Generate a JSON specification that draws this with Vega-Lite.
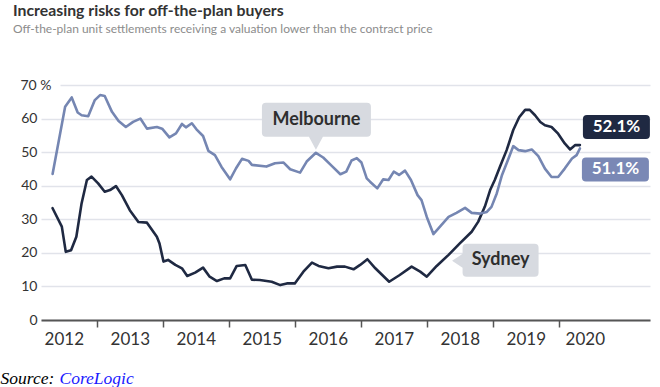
{
  "$schema": "https://vega.github.io/schema/vega-lite/v6.json",
  "width": 609,
  "height": 235,
  "autosize": {"type": "none"},
  "padding": {"left": 41, "top": 85, "right": 10, "bottom": 67},
  "background": "white",
  "title": {
    "text": "Increasing risks for off-the-plan buyers",
    "subtitle": "Off-the-plan unit settlements receiving a valuation lower than the contract price",
    "anchor": "start",
    "frame": "group",
    "dx": -28,
    "offset": 42,
    "font": "Lato",
    "fontSize": 15.8,
    "fontWeight": "bold",
    "color": "#333333",
    "subtitleFont": "Lato",
    "subtitleFontSize": 12,
    "subtitleColor": "#8c8c8c",
    "subtitlePadding": 4
  },
  "config": {"view": {"stroke": null}, "font": "Lato"},
  "datasets": {
    "series": [
      {"city": "Sydney", "year": 2012.33, "value": 33.3},
      {"city": "Sydney", "year": 2012.47, "value": 27.8},
      {"city": "Sydney", "year": 2012.53, "value": 20.3},
      {"city": "Sydney", "year": 2012.61, "value": 20.8},
      {"city": "Sydney", "year": 2012.69, "value": 24.8},
      {"city": "Sydney", "year": 2012.77, "value": 34.8},
      {"city": "Sydney", "year": 2012.85, "value": 41.7},
      {"city": "Sydney", "year": 2012.92, "value": 42.7},
      {"city": "Sydney", "year": 2013.02, "value": 40.7},
      {"city": "Sydney", "year": 2013.12, "value": 38.2},
      {"city": "Sydney", "year": 2013.20, "value": 38.7},
      {"city": "Sydney", "year": 2013.29, "value": 39.9},
      {"city": "Sydney", "year": 2013.38, "value": 37.2},
      {"city": "Sydney", "year": 2013.50, "value": 32.7},
      {"city": "Sydney", "year": 2013.63, "value": 29.2},
      {"city": "Sydney", "year": 2013.76, "value": 29.0},
      {"city": "Sydney", "year": 2013.83, "value": 27.0},
      {"city": "Sydney", "year": 2013.91, "value": 24.8},
      {"city": "Sydney", "year": 2013.95, "value": 22.8},
      {"city": "Sydney", "year": 2014.01, "value": 17.4},
      {"city": "Sydney", "year": 2014.08, "value": 17.9},
      {"city": "Sydney", "year": 2014.19, "value": 16.4},
      {"city": "Sydney", "year": 2014.29, "value": 15.4},
      {"city": "Sydney", "year": 2014.37, "value": 13.1},
      {"city": "Sydney", "year": 2014.49, "value": 14.1},
      {"city": "Sydney", "year": 2014.61, "value": 15.6},
      {"city": "Sydney", "year": 2014.71, "value": 12.9},
      {"city": "Sydney", "year": 2014.82, "value": 11.6},
      {"city": "Sydney", "year": 2014.93, "value": 12.4},
      {"city": "Sydney", "year": 2015.02, "value": 12.4},
      {"city": "Sydney", "year": 2015.12, "value": 16.1},
      {"city": "Sydney", "year": 2015.25, "value": 16.4},
      {"city": "Sydney", "year": 2015.35, "value": 12.0},
      {"city": "Sydney", "year": 2015.47, "value": 11.9},
      {"city": "Sydney", "year": 2015.65, "value": 11.4},
      {"city": "Sydney", "year": 2015.78, "value": 10.4},
      {"city": "Sydney", "year": 2015.88, "value": 10.9},
      {"city": "Sydney", "year": 2016.00, "value": 10.9},
      {"city": "Sydney", "year": 2016.13, "value": 14.4},
      {"city": "Sydney", "year": 2016.26, "value": 17.1},
      {"city": "Sydney", "year": 2016.36, "value": 16.1},
      {"city": "Sydney", "year": 2016.51, "value": 15.4},
      {"city": "Sydney", "year": 2016.64, "value": 15.9},
      {"city": "Sydney", "year": 2016.76, "value": 15.9},
      {"city": "Sydney", "year": 2016.89, "value": 15.1},
      {"city": "Sydney", "year": 2016.99, "value": 16.4},
      {"city": "Sydney", "year": 2017.10, "value": 18.1},
      {"city": "Sydney", "year": 2017.22, "value": 15.4},
      {"city": "Sydney", "year": 2017.43, "value": 11.4},
      {"city": "Sydney", "year": 2017.59, "value": 13.4},
      {"city": "Sydney", "year": 2017.77, "value": 15.9},
      {"city": "Sydney", "year": 2017.90, "value": 14.4},
      {"city": "Sydney", "year": 2018.00, "value": 12.9},
      {"city": "Sydney", "year": 2018.15, "value": 16.1},
      {"city": "Sydney", "year": 2018.33, "value": 19.4},
      {"city": "Sydney", "year": 2018.50, "value": 22.8},
      {"city": "Sydney", "year": 2018.68, "value": 26.3},
      {"city": "Sydney", "year": 2018.78, "value": 29.3},
      {"city": "Sydney", "year": 2018.88, "value": 33.8},
      {"city": "Sydney", "year": 2018.96, "value": 38.7},
      {"city": "Sydney", "year": 2019.03, "value": 41.7},
      {"city": "Sydney", "year": 2019.11, "value": 45.7},
      {"city": "Sydney", "year": 2019.21, "value": 50.6},
      {"city": "Sydney", "year": 2019.31, "value": 56.6},
      {"city": "Sydney", "year": 2019.40, "value": 60.4},
      {"city": "Sydney", "year": 2019.49, "value": 62.6},
      {"city": "Sydney", "year": 2019.56, "value": 62.6},
      {"city": "Sydney", "year": 2019.64, "value": 61.0},
      {"city": "Sydney", "year": 2019.72, "value": 59.0},
      {"city": "Sydney", "year": 2019.79, "value": 58.0},
      {"city": "Sydney", "year": 2019.89, "value": 57.5},
      {"city": "Sydney", "year": 2019.99, "value": 55.5},
      {"city": "Sydney", "year": 2020.09, "value": 52.6},
      {"city": "Sydney", "year": 2020.17, "value": 50.8},
      {"city": "Sydney", "year": 2020.25, "value": 52.1},
      {"city": "Sydney", "year": 2020.32, "value": 52.1},
      {"city": "Melbourne", "year": 2012.33, "value": 43.5},
      {"city": "Melbourne", "year": 2012.52, "value": 63.5},
      {"city": "Melbourne", "year": 2012.62, "value": 66.3},
      {"city": "Melbourne", "year": 2012.71, "value": 61.8},
      {"city": "Melbourne", "year": 2012.77, "value": 61.0},
      {"city": "Melbourne", "year": 2012.87, "value": 60.7},
      {"city": "Melbourne", "year": 2012.97, "value": 65.5},
      {"city": "Melbourne", "year": 2013.05, "value": 67.0},
      {"city": "Melbourne", "year": 2013.12, "value": 66.7},
      {"city": "Melbourne", "year": 2013.23, "value": 62.0},
      {"city": "Melbourne", "year": 2013.33, "value": 59.3},
      {"city": "Melbourne", "year": 2013.44, "value": 57.5},
      {"city": "Melbourne", "year": 2013.55, "value": 59.0},
      {"city": "Melbourne", "year": 2013.66, "value": 60.0},
      {"city": "Melbourne", "year": 2013.76, "value": 57.0},
      {"city": "Melbourne", "year": 2013.91, "value": 57.5},
      {"city": "Melbourne", "year": 2013.99, "value": 57.0},
      {"city": "Melbourne", "year": 2014.10, "value": 54.4},
      {"city": "Melbourne", "year": 2014.20, "value": 55.6},
      {"city": "Melbourne", "year": 2014.29, "value": 58.4},
      {"city": "Melbourne", "year": 2014.35, "value": 57.4},
      {"city": "Melbourne", "year": 2014.44, "value": 58.6},
      {"city": "Melbourne", "year": 2014.51, "value": 56.8},
      {"city": "Melbourne", "year": 2014.61, "value": 54.8},
      {"city": "Melbourne", "year": 2014.69, "value": 50.4},
      {"city": "Melbourne", "year": 2014.79, "value": 49.1},
      {"city": "Melbourne", "year": 2014.89, "value": 45.6},
      {"city": "Melbourne", "year": 2015.02, "value": 41.9},
      {"city": "Melbourne", "year": 2015.11, "value": 45.2},
      {"city": "Melbourne", "year": 2015.20, "value": 48.0},
      {"city": "Melbourne", "year": 2015.30, "value": 47.4},
      {"city": "Melbourne", "year": 2015.35, "value": 46.2},
      {"city": "Melbourne", "year": 2015.57, "value": 45.7},
      {"city": "Melbourne", "year": 2015.70, "value": 46.7},
      {"city": "Melbourne", "year": 2015.83, "value": 46.9},
      {"city": "Melbourne", "year": 2015.93, "value": 44.9},
      {"city": "Melbourne", "year": 2016.08, "value": 43.9},
      {"city": "Melbourne", "year": 2016.18, "value": 47.2},
      {"city": "Melbourne", "year": 2016.32, "value": 49.8},
      {"city": "Melbourne", "year": 2016.43, "value": 48.4},
      {"city": "Melbourne", "year": 2016.56, "value": 45.9},
      {"city": "Melbourne", "year": 2016.69, "value": 43.4},
      {"city": "Melbourne", "year": 2016.78, "value": 44.2},
      {"city": "Melbourne", "year": 2016.86, "value": 47.5},
      {"city": "Melbourne", "year": 2016.94, "value": 48.2},
      {"city": "Melbourne", "year": 2017.01, "value": 46.9},
      {"city": "Melbourne", "year": 2017.09, "value": 42.2},
      {"city": "Melbourne", "year": 2017.14, "value": 41.2},
      {"city": "Melbourne", "year": 2017.25, "value": 39.2},
      {"city": "Melbourne", "year": 2017.34, "value": 41.9},
      {"city": "Melbourne", "year": 2017.42, "value": 41.7},
      {"city": "Melbourne", "year": 2017.50, "value": 44.2},
      {"city": "Melbourne", "year": 2017.58, "value": 43.2},
      {"city": "Melbourne", "year": 2017.67, "value": 44.5},
      {"city": "Melbourne", "year": 2017.76, "value": 41.7},
      {"city": "Melbourne", "year": 2017.86, "value": 37.2},
      {"city": "Melbourne", "year": 2017.92, "value": 35.7},
      {"city": "Melbourne", "year": 2018.00, "value": 30.7},
      {"city": "Melbourne", "year": 2018.10, "value": 25.6},
      {"city": "Melbourne", "year": 2018.20, "value": 27.8},
      {"city": "Melbourne", "year": 2018.33, "value": 30.7},
      {"city": "Melbourne", "year": 2018.45, "value": 31.9},
      {"city": "Melbourne", "year": 2018.58, "value": 33.4},
      {"city": "Melbourne", "year": 2018.68, "value": 31.9},
      {"city": "Melbourne", "year": 2018.81, "value": 31.7},
      {"city": "Melbourne", "year": 2018.91, "value": 32.2},
      {"city": "Melbourne", "year": 2018.98, "value": 33.7},
      {"city": "Melbourne", "year": 2019.06, "value": 37.7},
      {"city": "Melbourne", "year": 2019.14, "value": 43.2},
      {"city": "Melbourne", "year": 2019.24, "value": 48.2},
      {"city": "Melbourne", "year": 2019.31, "value": 51.8},
      {"city": "Melbourne", "year": 2019.39, "value": 50.6},
      {"city": "Melbourne", "year": 2019.49, "value": 50.3},
      {"city": "Melbourne", "year": 2019.59, "value": 50.8},
      {"city": "Melbourne", "year": 2019.69, "value": 48.8},
      {"city": "Melbourne", "year": 2019.79, "value": 45.1},
      {"city": "Melbourne", "year": 2019.89, "value": 42.6},
      {"city": "Melbourne", "year": 2019.99, "value": 42.6},
      {"city": "Melbourne", "year": 2020.09, "value": 45.1},
      {"city": "Melbourne", "year": 2020.20, "value": 48.1},
      {"city": "Melbourne", "year": 2020.27, "value": 49.1},
      {"city": "Melbourne", "year": 2020.32, "value": 51.1}
    ]
  },
  "data": {"name": "series"},
  "encoding": {
    "x": {
      "field": "year",
      "type": "quantitative",
      "scale": {"domain": [2012.1545, 2021.382], "nice": false, "zero": false},
      "axis": {
        "values": [2012.5, 2013.5, 2014.5, 2015.5, 2016.5, 2017.5, 2018.5, 2019.5, 2020.5],
        "labelExpr": "'' + floor(datum.value)",
        "grid": false,
        "labelFlush": false,
        "labelOverlap": false,
        "domainColor": "#555555",
        "domainWidth": 2,
        "tickOffset": -33,
        "tickColor": {"condition": {"test": "datum.value < 2013", "value": "transparent"}, "value": "#555555"},
        "tickSize": 7,
        "tickWidth": 1.5,
        "labelOffset": {"condition": {"test": "datum.value > 2020", "value": 26}, "value": 33},
        "labelFont": "Lato",
        "labelFontSize": 17,
        "labelColor": "#333333",
        "labelPadding": 4,
        "title": "Source:",
        "titleX": -41,
        "titleY": 63,
        "titleAlign": "left",
        "titleBaseline": "alphabetic",
        "titleAnchor": null,
        "titleFont": "Liberation Serif",
        "titleFontStyle": "italic",
        "titleFontWeight": "normal",
        "titleFontSize": 17.5,
        "titleColor": "#000000"
      }
    },
    "y": {
      "field": "value",
      "type": "quantitative",
      "scale": {"domain": [0, 70], "nice": false},
      "axis": {
        "values": [0, 10, 20, 30, 40, 50, 60, 70],
        "domain": false,
        "ticks": false,
        "grid": true,
        "gridColor": "#e1e3ea",
        "gridWidth": 1.5,
        "gridDash": {"condition": {"test": "datum.value == 70", "value": [0, 19, 1000, 0]}, "value": []},
        "labelExpr": "datum.value == 70 ? '70 %' : datum.label",
        "labelAlign": {"condition": {"test": "datum.value == 70", "value": "left"}, "value": "right"},
        "labelPadding": {"condition": {"test": "datum.value == 70", "value": 21}, "value": 4},
        "labelBaseline": "middle",
        "labelFont": "Lato",
        "labelFontSize": 14,
        "labelColor": "#333333",
        "title": "CoreLogic",
        "titleAngle": 0,
        "titleX": 18,
        "titleY": 298,
        "titleAlign": "left",
        "titleBaseline": "alphabetic",
        "titleAnchor": null,
        "titleFont": "Liberation Serif",
        "titleFontStyle": "italic",
        "titleFontWeight": "normal",
        "titleFontSize": 17.5,
        "titleColor": "#1a1aff"
      }
    }
  },
  "layer": [
    {
      "mark": {"type": "line", "strokeWidth": 2.6, "strokeJoin": "round", "strokeCap": "round"},
      "encoding": {
        "color": {
          "field": "city",
          "type": "nominal",
          "scale": {"domain": ["Sydney", "Melbourne"], "range": ["#1f2942", "#7586b2"]},
          "legend": null
        },
        "order": {"field": "year"}
      }
    },
    {
      "transform": [{"filter": "datum.city == 'Melbourne' && datum.year == 2016.32"}],
      "layer": [
        {
          "mark": {"type": "point", "shape": "M-50,-50H51Q55,-50 55,-46V-20Q55,-16 51,-16H7L0,-3L-7,-16H-50Q-54,-16 -54,-20V-46Q-54,-50 -50,-50Z", "size": 4, "filled": true, "color": "#d7dae0", "opacity": 1, "strokeWidth": 0}
        },
        {
          "mark": {"type": "text", "text": "Melbourne", "dx": 0.5, "dy": -33, "align": "center", "baseline": "middle", "font": "Lato", "fontSize": 18, "fontWeight": "bold", "color": "#2e2e2e"}
        }
      ]
    },
    {
      "transform": [{"filter": "datum.city == 'Sydney' && datum.year == 2018.33"}],
      "layer": [
        {
          "mark": {"type": "point", "shape": "M18,-11H86Q90,-11 90,-7V18Q90,22 86,22H18Q14,22 14,18V13L3.5,6L14,-1V-7Q14,-11 18,-11Z", "size": 4, "filled": true, "color": "#d7dae0", "opacity": 1, "strokeWidth": 0}
        },
        {
          "mark": {"type": "text", "text": "Sydney", "dx": 52, "dy": 5.5, "align": "center", "baseline": "middle", "font": "Lato", "fontSize": 18, "fontWeight": "bold", "color": "#2e2e2e"}
        }
      ]
    },
    {
      "transform": [
        {"joinaggregate": [{"op": "max", "field": "year", "as": "last"}], "groupby": ["city"]},
        {"filter": "datum.year == datum.last && datum.city == 'Sydney'"},
        {"calculate": "format(datum.value, '.1f') + '%'", "as": "label"}
      ],
      "layer": [
        {
          "mark": {"type": "point", "shape": "M7,-30H66Q70,-30 70,-26V-10Q70,-6 66,-6H7Q3,-6 3,-10V-26Q3,-30 7,-30Z", "size": 4, "filled": true, "color": "#1f2942", "opacity": 1, "strokeWidth": 0}
        },
        {
          "mark": {"type": "text", "dx": 36.5, "dy": -18, "align": "center", "baseline": "middle", "font": "Lato", "fontSize": 17, "fontWeight": "bold", "color": "#ffffff"},
          "encoding": {"text": {"field": "label"}}
        }
      ]
    },
    {
      "transform": [
        {"joinaggregate": [{"op": "max", "field": "year", "as": "last"}], "groupby": ["city"]},
        {"filter": "datum.year == datum.last && datum.city == 'Melbourne'"},
        {"calculate": "format(datum.value, '.1f') + '%'", "as": "label"}
      ],
      "layer": [
        {
          "mark": {"type": "point", "shape": "M6,9H65Q69,9 69,13V29Q69,33 65,33H6Q2,33 2,29V13Q2,9 6,9Z", "size": 4, "filled": true, "color": "#7a88b5", "opacity": 1, "strokeWidth": 0}
        },
        {
          "mark": {"type": "text", "dx": 35.5, "dy": 21, "align": "center", "baseline": "middle", "font": "Lato", "fontSize": 17, "fontWeight": "bold", "color": "#ffffff"},
          "encoding": {"text": {"field": "label"}}
        }
      ]
    }
  ]
}
